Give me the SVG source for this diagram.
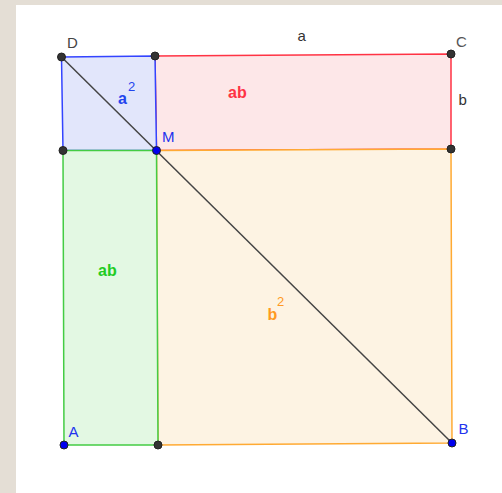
<svg xmlns="http://www.w3.org/2000/svg" width="502" height="493" viewBox="0 0 502 493">
<style>
.pt{fill:#333;stroke:#222;stroke-width:1}
.ptb{fill:#0000ee;stroke:#222;stroke-width:1}
.lbl{font-family:"Liberation Sans",Arial,sans-serif;font-size:15px}
.big{font-family:"Liberation Sans",Arial,sans-serif;font-size:16px;font-weight:bold}
.sup{font-family:"Liberation Sans",Arial,sans-serif;font-size:13px}
</style>
<rect x="0" y="0" width="502" height="493" fill="#e4ded5"/>
<rect x="16" y="5" width="486" height="488" fill="#ffffff"/>
<g id="rect-ab-red">
<polygon points="155,56 451,54 451,149 156.5,150.5" fill="#fde7e8" stroke="#ff3344" stroke-width="1.5"/>
</g>
<g id="square-b2">
<polygon points="156.5,150.5 451,149 452,443 158,445" fill="#fdf3e3" stroke="#ffaa33" stroke-width="1.5"/>
</g>
<g id="square-a2">
<polygon points="61.5,57 155,56 156.5,150.5 63,150.5" fill="#e2e6fb" stroke="#3344ff" stroke-width="1.5"/>
</g>
<g id="rect-ab-green">
<polygon points="63,150.5 156.5,150.5 158,445 64,445" fill="#e3f8e3" stroke="#44cc44" stroke-width="1.5"/>
</g>
<g id="connectors">
<line x1="61.5" y1="57" x2="452" y2="443" stroke="#444" stroke-width="1.5"/>
</g>
<g id="labels">
<text class="lbl" x="67" y="48" fill="#444">D</text>
<text class="lbl" x="456" y="46.5" fill="#555">C</text>
<text class="lbl" x="297.5" y="41" fill="#333">a</text>
<text class="lbl" x="458.5" y="105" fill="#333">b</text>
<text class="lbl" x="162" y="141.5" fill="#2233ee">M</text>
<text class="lbl" x="68.5" y="437" fill="#2233ee">A</text>
<text class="lbl" x="458.5" y="434" fill="#2233ee">B</text>
<text class="big" x="118" y="104" fill="#2244ee">a</text>
<text class="sup" x="128" y="90.5" fill="#2244ee">2</text>
<text class="big" x="228" y="98" fill="#ff3344">ab</text>
<text class="big" x="98" y="275.5" fill="#22cc22">ab</text>
<text class="big" x="267.5" y="319.5" fill="#ff9922">b</text>
<text class="sup" x="277" y="306" fill="#ff9922">2</text>
</g>
<g id="point-D"><circle class="pt" cx="61.5" cy="57" r="4"/></g>
<g id="point-top"><circle class="pt" cx="155" cy="56" r="4"/></g>
<g id="point-C"><circle class="pt" cx="451" cy="54" r="4"/></g>
<g id="point-right"><circle class="pt" cx="451" cy="149" r="4"/></g>
<g id="point-left"><circle class="pt" cx="63" cy="150.5" r="4"/></g>
<g id="point-M"><circle class="ptb" cx="156.5" cy="150.5" r="4"/></g>
<g id="point-A"><circle class="ptb" cx="64" cy="445" r="4"/></g>
<g id="point-bottom"><circle class="pt" cx="158" cy="445" r="4"/></g>
<g id="point-B"><circle class="ptb" cx="452" cy="443" r="4"/></g>
</svg>
